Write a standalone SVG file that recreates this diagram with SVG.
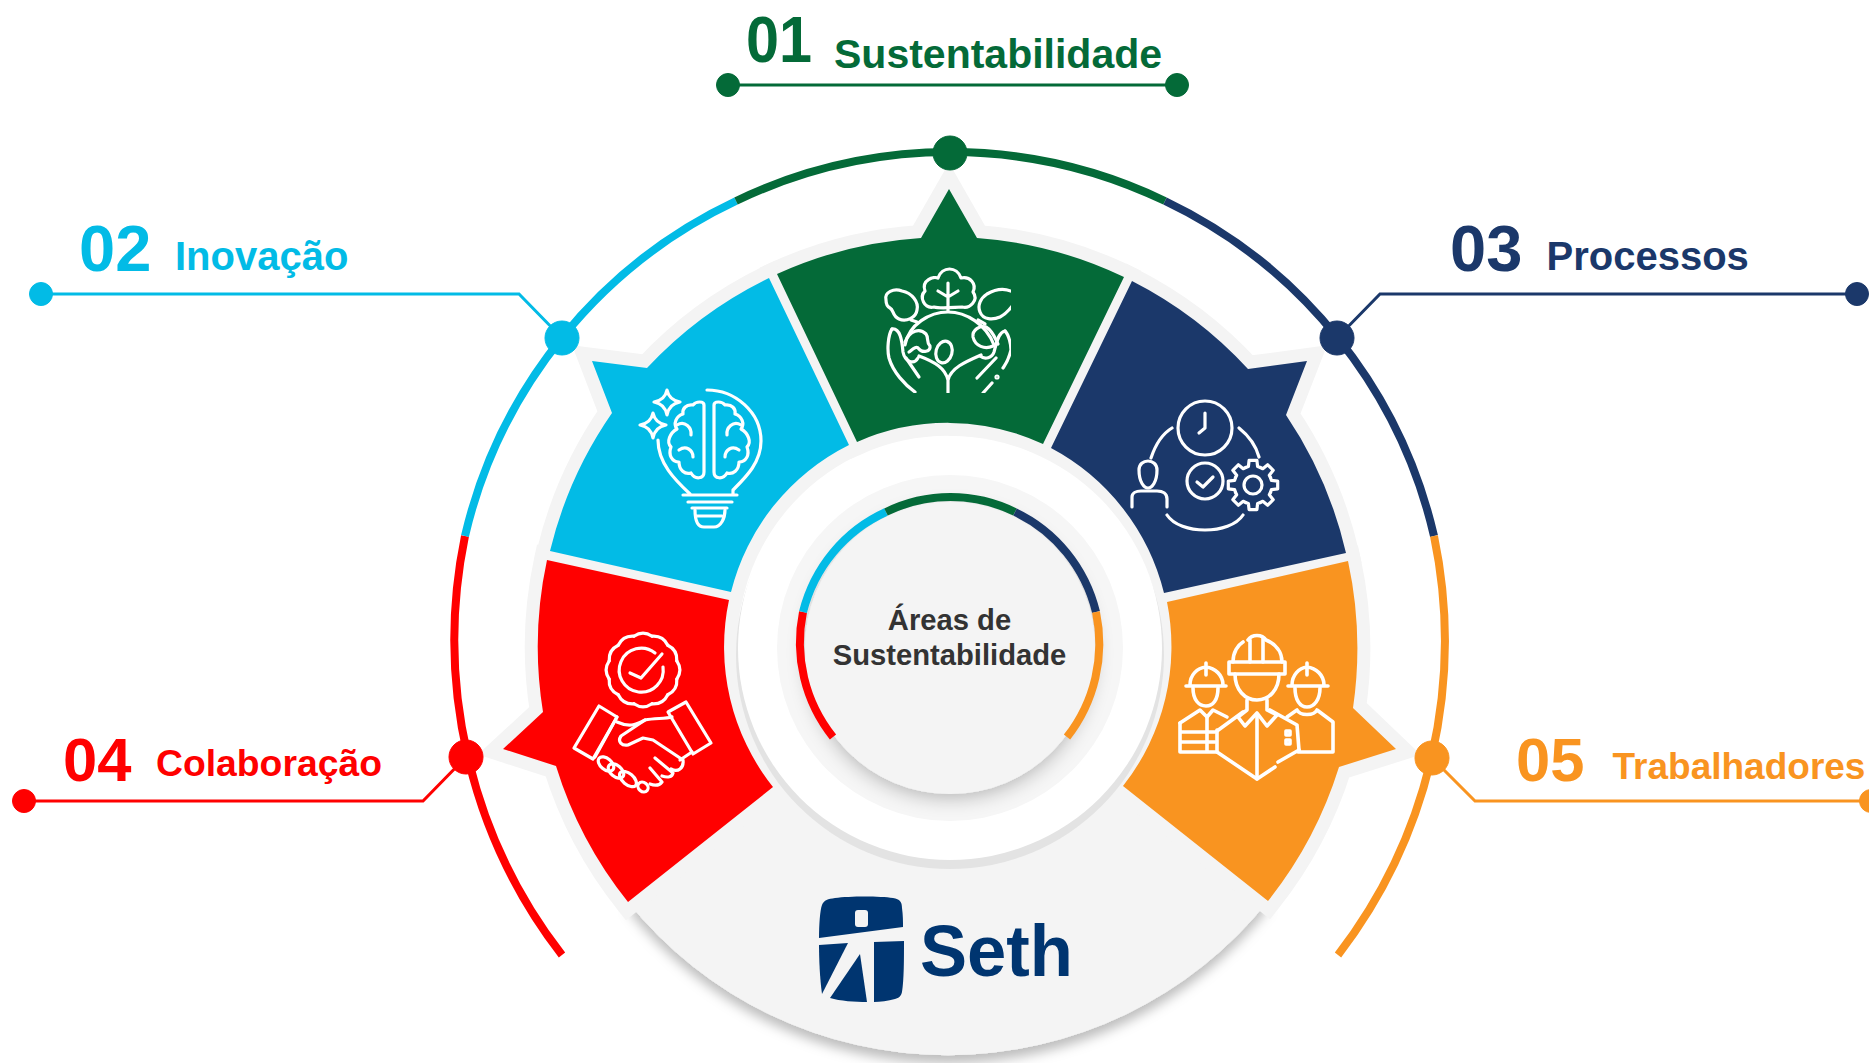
<svg xmlns="http://www.w3.org/2000/svg" width="1869" height="1063" viewBox="0 0 1869 1063">
<style>
text{font-family:"Liberation Sans",Arial,sans-serif;font-weight:700}
.num{font-size:65px}
.num2{font-size:61.5px}
.lab{font-size:40px}
.ic{fill:none;stroke:#fff;stroke-width:3.2;stroke-linecap:round;stroke-linejoin:round}
.ring{fill:none;stroke-width:8}
.ln{fill:none;stroke-width:3}
.g{fill:#046a38;stroke:#046a38}
.b{fill:#02bbe6;stroke:#02bbe6}
.n{fill:#1b386a;stroke:#1b386a}
.r{fill:#ff0000;stroke:#ff0000}
.o{fill:#f99420;stroke:#f99420}
.seg{stroke:none}
.nf{fill:none}
</style>
<defs>
<filter id="sh" x="-20%" y="-20%" width="140%" height="140%"><feDropShadow dx="0" dy="8" stdDeviation="6" flood-color="#000" flood-opacity="0.26"/></filter>
<filter id="sh2" x="-20%" y="-20%" width="140%" height="140%"><feDropShadow dx="0" dy="5" stdDeviation="9" flood-color="#000" flood-opacity="0.24"/></filter>
<path id="sGreen" d="M777,274A411,411 0 0 1 921,238L949,189L977,238A411,411 0 0 1 1124,277L1043,444A225,225 0 0 0 857,442Z"/>
<path id="sBlue" d="M592,361L647,368A411,411 0 0 1 769,278L849,445A225,225 0 0 0 731,592L550,551A411,411 0 0 1 612,413Z"/>
<path id="sNavy" d="M1132,281A411,411 0 0 1 1248,369L1307,361L1286,415A411,411 0 0 1 1346,553L1164,593A225,225 0 0 0 1051,448Z"/>
<path id="sRed" d="M547,560L729,600A225,225 0 0 0 773,787L628,902A411,411 0 0 1 556,766L503,749L543,712A411,411 0 0 1 547,560Z"/>
<path id="sOrange" d="M1167,602L1348,561A411,411 0 0 1 1353,708L1396,749L1339,767A411,411 0 0 1 1268,901L1123,786A225,225 0 0 0 1167,602Z"/>
<path id="tooth" d="M17.55,-7.27L18.44,-4.6L24.69,-3.91L24.69,3.91L18.44,4.6L17.55,7.27"/>
<path id="wave" d="M33.8,-9.06Q40,0 33.8,9.06"/>
<clipPath id="cGreen"><rect x="880" y="260" width="131" height="133"/></clipPath>
<clipPath id="cNavy"><rect x="1125" y="395" width="155" height="140"/></clipPath>
</defs>
<rect width="1869" height="1063" fill="#fff"/>

<g id="base">
<path d="M773,787L628,902A410,410 0 0 0 1268,901L1123,786Z" fill="#f4f4f4" filter="url(#sh)"/>
<g fill="#f4f4f4" stroke="#f4f4f4" stroke-width="26" stroke-linejoin="miter" stroke-miterlimit="6">
<use href="#sGreen"/><use href="#sBlue"/><use href="#sNavy"/><use href="#sRed"/><use href="#sOrange"/>
</g>
<circle cx="950" cy="655" r="214" fill="#e3e3e3"/>
<circle cx="950" cy="648" r="212" fill="#fff"/>
<circle cx="950" cy="648" r="173" fill="#f6f6f6"/>
<ellipse cx="950" cy="648" rx="145" ry="146" fill="#f4f4f4" filter="url(#sh2)"/>
</g>

<g id="connectors">
<path class="ln nf g" d="M728,85H1177"/>
<path class="ln nf b" d="M41,294H519L562,338"/>
<path class="ln nf n" d="M1337,338L1380,294H1857"/>
<path class="ln nf r" d="M24,801H423L466,757"/>
<path class="ln nf o" d="M1432,758L1475,801H1871"/>
</g>

<g id="outer-ring">
<path class="ring nf r" d="M562,955A515,515 0 0 1 465,536"/>
<path class="ring nf b" d="M465,536A495,495 0 0 1 736,201"/>
<path class="ring nf g" d="M736,201A495,495 0 0 1 1165,201"/>
<path class="ring nf n" d="M1165,201A495,495 0 0 1 1434,536"/>
<path class="ring nf o" d="M1434,536A515,515 0 0 1 1338,955"/>
</g>

<g id="inner-ring">
<path class="ring nf r" d="M833,737A148,150 0 0 1 803,612"/>
<path class="ring nf b" d="M803,612A148,150 0 0 1 886,512"/>
<path class="ring nf g" d="M886,512A148,150 0 0 1 1015,512"/>
<path class="ring nf n" d="M1015,512A148,150 0 0 1 1096,612"/>
<path class="ring nf o" d="M1096,612A148,150 0 0 1 1067,737"/>
</g>

<g id="node-01">
<use href="#sGreen" class="g seg"/>
<g class="ic" clip-path="url(#cGreen)">
<path d="M934,307C924,309 919,297 925,291C921,280 934,276 938,278C942,266 957,266 961,278C970,276 977,284 973,292C979,300 970,309 962,307C956,307 941,309 934,307Z"/>
<path d="M948,283V311M938,291L948,297M958,291L948,297"/>
<path d="M886,300C884,292 894,288 902,291C912,293 919,302 917,310C916,318 906,322 899,319C892,316 894,310 890,308C886,306 886,303 886,300Z"/>
<path d="M911,320L917,322"/>
<path d="M1013,292C1003,287 994,290 987,294C981,298 977,305 980,312C983,320 993,320 1000,317C1006,314 1010,309 1013,305Z"/>
<path d="M978,320L985,324"/>
<path d="M905,345C909,324 930,312 948,312C966,312 986,324 994,345"/>
<path d="M905,342C910,330 920,328 926,334C929,338 926,342 930,346C931,352 922,353 919,349C916,345 912,350 909,352"/>
<path d="M993,346C985,350 975,346 973,337C972,330 980,325 986,327C993,331 996,340 998,344"/>
<ellipse cx="944" cy="352" rx="8" ry="11" transform="rotate(15 944 352)"/>
<path d="M892,329C888,335 887,350 889,358C893,372 905,385 915,392"/>
<path d="M892,329C900,328 902,340 903,352C905,362 914,365 918,358"/>
<path d="M906,358L919,377"/>
<path d="M919,356C935,362 945,368 948,380C951,368 965,362 981,355M948,378V393"/>
<path d="M1005,331C1009,335 1011,345 1011,350C1008,362 1005,365 1003,368"/>
<path d="M1005,331C998,332 996,345 994,352C992,358 985,360 980,356"/>
<path d="M996,358L977,378M992,383L983,393"/>
<circle cx="997" cy="377" r="1"/>
</g>
</g>

<g id="node-02">
<use href="#sBlue" class="b seg"/>
<g class="ic">
<path d="M707,390C735,390 761,412 761,441C761,463 745,478 733,490L733,494M658,440C658,463 675,480 690,494"/>
<path d="M683,495H737M688,502H732M692,508H727"/>
<path d="M695,510C695,518 697,527 704,527H714C721,527 725,518 725,510M697,516H722"/>
<g id="brain">
<path d="M704,405C704,401 696,401 693,405C686,404 682,409 683,414C676,416 673,424 677,429C670,433 666,442 671,447C668,455 672,462 679,462C679,470 685,475 691,473C695,480 704,479 704,472Z"/>
<path d="M677,425C685,420 692,428 691,435M679,450C686,445 693,450 693,457"/>
</g>
<use href="#brain" transform="translate(1418,0) scale(-1,1)"/>
<path d="M667,390Q669,400 680,402Q669,404 667,415Q665,404 654,402Q665,400 667,390Z"/>
<path d="M653,413Q655,423 666,425Q655,427 653,438Q651,427 640,425Q651,423 653,413Z"/>
</g>
</g>

<g id="node-03">
<use href="#sNavy" class="n seg"/>
<g class="ic" clip-path="url(#cNavy)">
<circle cx="1205" cy="428" r="27"/>
<path d="M1205,413V428L1199,433"/>
<circle cx="1205" cy="481" r="18"/>
<path d="M1197,482L1203,487L1213,477"/>
<path d="M1172,428C1162,434 1155,446 1151,458M1239,428C1249,436 1256,446 1259,457M1167,515C1180,535 1230,535 1243,515"/>
<path d="M1139,470C1139,458 1157,458 1157,470C1157,482 1152,488 1148,488C1144,488 1139,482 1139,470Z"/>
<path d="M1132,507V497C1132,493 1136,491 1141,491H1157C1163,491 1167,494 1167,499V507"/>
<g transform="translate(1253,485)">
<circle r="9"/>
<use href="#tooth"/>
<use href="#tooth" transform="rotate(45)"/>
<use href="#tooth" transform="rotate(90)"/>
<use href="#tooth" transform="rotate(135)"/>
<use href="#tooth" transform="rotate(180)"/>
<use href="#tooth" transform="rotate(225)"/>
<use href="#tooth" transform="rotate(270)"/>
<use href="#tooth" transform="rotate(315)"/>
</g>
</g>
</g>

<g id="node-04">
<use href="#sRed" class="r seg"/>
<g class="ic">
<g transform="translate(643,670)">
<use href="#wave"/>
<use href="#wave" transform="rotate(30)"/>
<use href="#wave" transform="rotate(60)"/>
<use href="#wave" transform="rotate(90)"/>
<use href="#wave" transform="rotate(120)"/>
<use href="#wave" transform="rotate(150)"/>
<use href="#wave" transform="rotate(180)"/>
<use href="#wave" transform="rotate(210)"/>
<use href="#wave" transform="rotate(240)"/>
<use href="#wave" transform="rotate(270)"/>
<use href="#wave" transform="rotate(300)"/>
<use href="#wave" transform="rotate(330)"/>
</g>
<path d="M655,653A22,22 0 1 0 663,667"/>
<path d="M630,673L641,678L662,654"/>
<path d="M599,706L617,717L593,759L574,748Z"/>
<path d="M686,702L711,743L693,754L668,712Z"/>
<path d="M617,722C630,728 638,724 645,720C655,718 665,719 672,717"/>
<path d="M645,720L621,736C617,742 622,746 628,745L643,738L653,740L683,760C684,768 678,773 671,769"/>
<path d="M692,752L680,760"/>
<path d="M655,758L673,773C672,777 668,778 662,776M650,768L662,782C659,786 655,786 650,784"/>
<ellipse cx="606" cy="764" rx="5.5" ry="9" transform="rotate(-50 606 764)"/>
<ellipse cx="616" cy="771" rx="5.5" ry="9" transform="rotate(-50 616 771)"/>
<ellipse cx="628" cy="779" rx="5.5" ry="10" transform="rotate(-50 628 779)"/>
<ellipse cx="643" cy="787" rx="4.5" ry="5.5" transform="rotate(-50 643 787)"/>
<path d="M617,717L595,757"/>
</g>
</g>

<g id="node-05">
<use href="#sOrange" class="o seg"/>
<g class="ic" style="stroke-width:3.6">
<path d="M1233,662C1233,652 1238,645 1243,642M1248,640C1252,634 1262,634 1266,640C1276,644 1282,652 1282,662"/>
<path d="M1250,640V662M1263,638V662"/>
<rect x="1229" y="662" width="56" height="12"/>
<path d="M1235,674C1235,690 1245,700 1257,700C1269,700 1279,690 1279,674"/>
<path d="M1247,700V710L1238,717L1245,726L1257,713L1267,726L1277,715L1267,710V700"/>
<path d="M1217,731L1243,712M1270,710L1297,725L1299,750"/>
<path d="M1217,730V752L1257,779L1275,767M1278,762L1299,750"/>
<path d="M1257,717V779"/>
<path d="M1286,731h4v4h-4zM1286,740h4v4h-4z"/>
<path d="M1190,685C1190,675 1197,668 1206,667C1215,668 1223,675 1223,685M1186,686H1226M1206,663V675"/>
<path d="M1193,688C1193,700 1199,706 1206,706C1213,706 1218,700 1218,688"/>
<path d="M1180,723L1200,710L1207,717L1213,710L1227,717"/>
<path d="M1180,723V752H1217M1180,732H1215M1180,742H1215M1207,717V752"/>
<path d="M1292,685C1292,675 1299,668 1307,667C1316,668 1324,675 1324,685M1288,686H1328M1307,663V675"/>
<path d="M1295,688C1295,700 1300,707 1307,707C1314,707 1320,700 1320,688"/>
<path d="M1287,717L1297,710C1300,716 1314,716 1317,710L1333,722V752H1298"/>
</g>
</g>

<g id="center">
<text x="949.5" y="630" text-anchor="middle" font-size="29.2" fill="#333">Áreas de</text>
<text x="949.5" y="665" text-anchor="middle" font-size="29.2" fill="#333">Sustentabilidade</text>
</g>

<g id="logo">
<path fill="#003570" d="M819,938C819,925 820,910 822,905C824,900 828,899 835,898C850,896 880,896 893,898C900,899 902,902 902,908C903,915 903,922 903,927Z"/>
<rect x="855" y="910" width="13" height="17" rx="3" fill="#f4f4f4"/>
<path fill="#003570" d="M819,945L848,943L822,994C820,980 819,960 819,945Z"/>
<path fill="#003570" d="M860,954L867,1002C855,1002 840,1001 830,998Z"/>
<path fill="#003570" d="M874,942L904,941C904,960 904,980 902,992C901,996 899,998 895,999C888,1001 880,1002 874,1002Z"/>
<text x="920" y="976" font-size="73" fill="#003570" textLength="153" lengthAdjust="spacingAndGlyphs">Seth</text>
</g>

<g id="label-01">
<circle class="g" cx="728" cy="85" r="11.5"/><circle class="g" cx="1177" cy="85" r="11.5"/>
<circle class="g" cx="950" cy="153" r="17"/>
<text class="num" x="746" y="62" fill="#046a38" textLength="66" lengthAdjust="spacingAndGlyphs">01</text>
<text x="834" y="68" font-size="41" fill="#046a38">Sustentabilidade</text>
</g>
<g id="label-02">
<circle class="b" cx="41" cy="294" r="11.5"/>
<circle class="b" cx="562" cy="338" r="17"/>
<text class="num" x="79" y="271" fill="#02bbe6">02</text>
<text class="lab" x="175" y="270" fill="#02bbe6">Inovação</text>
</g>
<g id="label-03">
<circle class="n" cx="1857" cy="294" r="11.5"/>
<circle class="n" cx="1337" cy="338" r="17"/>
<text class="num" x="1450" y="271" fill="#1b386a">03</text>
<text class="lab" x="1546.5" y="270" fill="#1b386a">Processos</text>
</g>
<g id="label-04">
<circle class="r" cx="24" cy="801" r="11.5"/>
<circle class="r" cx="466" cy="757" r="17"/>
<text class="num2" x="63" y="781" fill="#ff0000">04</text>
<text x="156" y="776" font-size="37.3" fill="#ff0000">Colaboração</text>
</g>
<g id="label-05">
<circle class="o" cx="1871" cy="801" r="11.5"/>
<circle class="o" cx="1432" cy="758" r="17"/>
<text class="num2" x="1516" y="781" fill="#f99420">05</text>
<text x="1612.5" y="779" font-size="37" fill="#f99420">Trabalhadores</text>
</g>
</svg>
